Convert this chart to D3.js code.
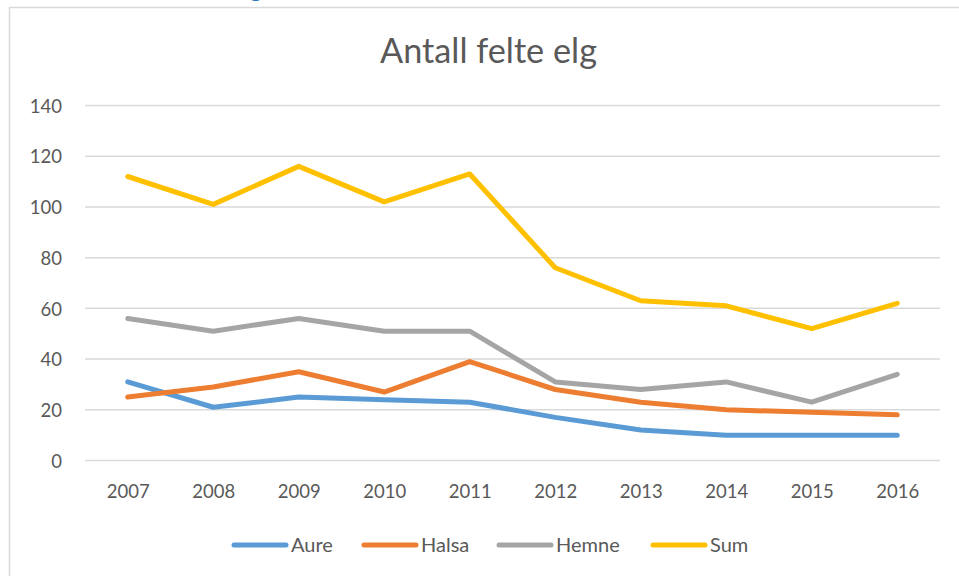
<!DOCTYPE html>
<html>
<head>
<meta charset="utf-8">
<script src="https://cdn.jsdelivr.net/npm/d3@7"></script>
<style>
  html, body { margin: 0; padding: 0; background: #fff; }
  svg { display: block; }
  text { font-family: Lato, "Open Sans", sans-serif; fill: #595959; }
</style>
</head>
<body>
<svg id="chart" width="959" height="576"></svg>
<script>
const years = ["2007","2008","2009","2010","2011","2012","2013","2014","2015","2016"];
const seriesNames = ["Aure", "Halsa", "Hemne", "Sum"];
const aure  = [31, 21, 25, 24, 23, 17, 12, 10, 10, 10];
const halsa = [25, 29, 35, 27, 39, 28, 23, 20, 19, 18];
const hemne = [56, 51, 56, 51, 51, 31, 28, 31, 23, 34];
const sum   = [112, 101, 116, 102, 113, 76, 63, 61, 52, 62];
const yTicks = [0, 20, 40, 60, 80, 100, 120, 140];
const colors = ["#5b9bd5", "#ed7d31", "#a5a5a5", "#ffc000"];
const title = "Antall felte elg";

const series = [aure, halsa, hemne, sum];

const svg = d3.select("#chart");

// chart area border (extends beyond the window on the right and bottom)
svg.append("rect")
  .attr("x", 9.5).attr("y", 7.5)
  .attr("width", 1000).attr("height", 600)
  .attr("fill", "none").attr("stroke", "#d9d9d9").attr("stroke-width", 1.5);

// cut-off heading above the chart (only the descender shows, as in the reference)
svg.append("text")
  .attr("x", 250).attr("y", -3)
  .style("font-size", "22px")
  .style("fill", "#2e74b5")
  .text("g");

const plotLeft = 85, plotRight = 940, plotTop = 105.5, plotBottom = 460.5;

const x = d3.scalePoint().domain(years).range([plotLeft, plotRight]).padding(0.5);
const y = d3.scaleLinear().domain([0, 140]).range([plotBottom, plotTop]);

// gridlines
svg.append("g")
  .selectAll("line")
  .data(yTicks)
  .join("line")
  .attr("x1", plotLeft).attr("x2", plotRight)
  .attr("y1", d => y(d)).attr("y2", d => y(d))
  .attr("stroke", "#d9d9d9").attr("stroke-width", 1.5);

// y axis labels
const yAxis = d3.axisLeft(y).tickValues(yTicks).tickSize(0).tickPadding(0);
const yg = svg.append("g").attr("transform", `translate(62,0)`).call(yAxis);
yg.select(".domain").remove();
yg.selectAll("text")
  .attr("x", 0)
  .attr("dy", "0.36em")
  .style("font-size", "18.5px")
  .style("font-family", "Lato, 'Open Sans', sans-serif")
  .attr("fill", "#595959");

// x axis labels
const xAxis = d3.axisBottom(x).tickSize(0).tickPadding(0);
const xg = svg.append("g").attr("transform", `translate(0,${plotBottom})`).call(xAxis);
xg.select(".domain").remove();
xg.selectAll("text")
  .attr("y", 0)
  .attr("dy", "37")
  .style("font-size", "18.5px")
  .style("font-family", "Lato, 'Open Sans', sans-serif")
  .attr("fill", "#595959");

// lines
const line = d3.line()
  .x((d, i) => x(years[i]))
  .y(d => y(d));

svg.append("g")
  .selectAll("path")
  .data(series)
  .join("path")
  .attr("d", d => line(d))
  .attr("fill", "none")
  .attr("stroke", (d, i) => colors[i])
  .attr("stroke-width", 5)
  .attr("stroke-linecap", "round")
  .attr("stroke-linejoin", "round");

// title (fit to the reference width)
const t = svg.append("text")
  .attr("x", 488.5).attr("y", 63)
  .attr("text-anchor", "middle")
  .style("font-size", "100px")
  .text(title);
const w100 = t.node().getComputedTextLength();
t.style("font-size", (100 * 217 / w100).toFixed(2) + "px");

// legend
const legendStarts = [232, 362, 497, 651];
const lg = svg.append("g");
seriesNames.forEach((name, i) => {
  const lx = legendStarts[i];
  lg.append("line")
    .attr("x1", lx + 2).attr("x2", lx + 54)
    .attr("y1", 545).attr("y2", 545)
    .attr("stroke", colors[i]).attr("stroke-width", 5)
    .attr("stroke-linecap", "round");
  lg.append("text")
    .attr("x", lx + 59).attr("y", 545)
    .attr("dy", "0.36em")
    .style("font-size", "20px")
    .text(name);
});
</script>
</body>
</html>
